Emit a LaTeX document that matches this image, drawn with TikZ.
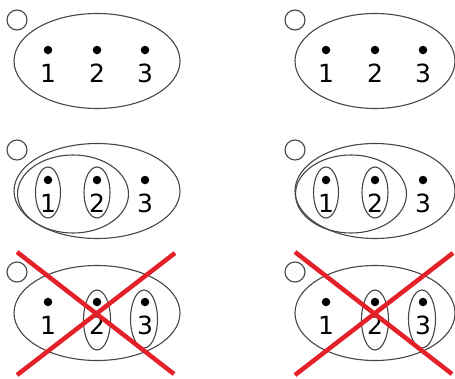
\documentclass[tikz,border=0pt]{standalone}
\usepackage{fontspec}
\setsansfont{DejaVu Sans}
\usetikzlibrary{shapes.geometric}
\definecolor{setgray}{RGB}{70,70,70}
\definecolor{crossred}{RGB}{228,32,40}
\newcommand{\setpanel}[4]{%
 \begin{scope}[shift={(#2,#3)}]
  \node[set, minimum width=#4pt, minimum height=95pt] (#1) at (0,0) {};
  \node[ring] (#1-ring) at (-80,-41) {};
  \foreach \i/\x in {1/-49,2/0,3/48} {
   \node[dot] (#1-dot\i) at (\x,-11) {};
   \node[digit] (#1-lab\i) at (\x,12) {\i};
  }
 \end{scope}}

\begin{document}
\begin{tikzpicture}[x=1pt, y=-1pt,
 set/.style={ellipse, draw=setgray, line width=1.1pt, inner sep=0pt},
 ring/.style={circle, draw=setgray, line width=1.1pt, minimum size=20pt, inner sep=0pt},
 dot/.style={circle, fill=black, minimum size=8.5pt, inner sep=0pt},
 digit/.style={font=\sffamily\fontsize{25}{25}\selectfont, inner sep=0pt},
 cross/.style={draw=crossred, line width=4.5pt}]

 \useasboundingbox (0,0) rectangle (455,378);

 % top row
 \setpanel{A}{97}{61}{166}
 \setpanel{B}{375}{61}{160}

 % middle row
 \setpanel{C}{97}{191}{166}
 \setpanel{D}{375}{191}{160}
 \foreach \p/\x in {C/97,D/375} {
  \begin{scope}[shift={(\x,191)}]
   \node[set, minimum width=111pt, minimum height=78pt] (\p-pair) at (-24,3) {};
   \node[set, minimum width=25pt, minimum height=51pt] (\p-one) at (-49,1.5) {};
   \node[set, minimum width=26pt, minimum height=51pt] (\p-two) at (0,1.5) {};
  \end{scope}
 }

 % bottom row
 \setpanel{E}{97}{313}{166}
 \setpanel{F}{375}{313}{160}
 \foreach \p/\x in {E/97,F/375} {
  \begin{scope}[shift={(\x,313)}]
   \node[set, minimum width=27pt, minimum height=60pt] (\p-two) at (0,7) {};
   \node[set, minimum width=27pt, minimum height=58pt] (\p-three) at (47,6) {};
   \coordinate (\p-nw) at (-80,-61);
   \coordinate (\p-ne) at (78,-60);
   \coordinate (\p-sw) at (-80,62);
   \coordinate (\p-se) at (77,61);
  \end{scope}
  \draw[cross] (\p-nw) -- (\p-se);
  \draw[cross] (\p-ne) -- (\p-sw);
 }
\end{tikzpicture}
\end{document}
